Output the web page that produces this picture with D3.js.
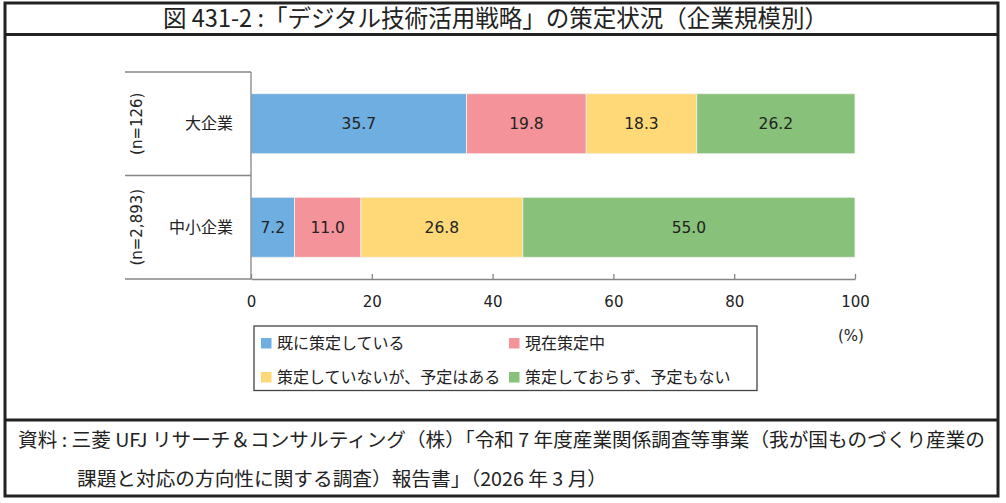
<!DOCTYPE html>
<html><head><meta charset="utf-8">
<script src="https://cdn.jsdelivr.net/npm/d3@7"></script>
<style>
html,body{margin:0;padding:0;background:#fff;}
svg{display:block;}
text{font-family:"Noto Sans CJK JP","Noto Sans",sans-serif;fill:#222;}
.num{font-family:"DejaVu Sans",Verdana,sans-serif;}
</style></head>
<body>
<script>
const categories = ["大企業", "中小企業"];
const sampleSizes = ["(n=126)", "(n=2,893)"];
const seriesNames = ["既に策定している", "現在策定中", "策定していないが、予定はある", "策定しておらず、予定もない"];
const largeValues = [35.7, 19.8, 18.3, 26.2];
const smeValues = [7.2, 11.0, 26.8, 55.0];
const tickValues = [0, 20, 40, 60, 80, 100];
const colors = ["#6eaee0", "#f4949a", "#ffd978", "#88c17a"];
const titleText = "図 431-2 :「デジタル技術活用戦略」の策定状況（企業規模別）";
const sourceLine1 = "資料 : 三菱 UFJ リサーチ＆コンサルティング（株）「令和 7 年度産業関係調査等事業（我が国ものづくり産業の";
const sourceLine2 = "課題と対応の方向性に関する調査）報告書」（2026 年 3 月）";

const W = 1006, H = 503;
const svg = d3.select("body").append("svg").attr("width", W).attr("height", H);

// Frame
svg.append("rect").attr("x", 5).attr("y", 3).attr("width", 993).attr("height", 493)
  .attr("fill", "none").attr("stroke", "#222").attr("stroke-width", 3);
svg.append("line").attr("x1", 5).attr("x2", 998).attr("y1", 34.5).attr("y2", 34.5)
  .attr("stroke", "#222").attr("stroke-width", 3);
svg.append("line").attr("x1", 5).attr("x2", 998).attr("y1", 420).attr("y2", 420)
  .attr("stroke", "#222").attr("stroke-width", 3);

// Title
svg.append("text").attr("x", 163).attr("y", 26.5).attr("font-size", 24)
  .attr("textLength", 665).attr("lengthAdjust", "spacingAndGlyphs")
  .text(titleText);

// Source
svg.append("text").attr("x", 18).attr("y", 447).attr("font-size", 19)
  .attr("textLength", 967).attr("lengthAdjust", "spacingAndGlyphs").text(sourceLine1);
svg.append("text").attr("x", 77).attr("y", 486).attr("font-size", 19)
  .attr("textLength", 530).attr("lengthAdjust", "spacingAndGlyphs").text(sourceLine2);

// Scales
const x = d3.scaleLinear().domain([0, 100]).range([251, 855]);
const y = d3.scaleBand().domain(categories).range([72, 279]).padding(0);
const barH = y.bandwidth() * 0.58;

const data = [largeValues, smeValues];
const stacked = categories.map((c, i) => {
  let acc = 0;
  return data[i].map((v, k) => { const s = acc; acc += v; return {cat: c, k, v, x0: s, x1: acc}; });
});

const gray = "#858585";
// Category box lines
[72, y(categories[1]), 279].forEach(yy => {
  svg.append("line").attr("x1", 125).attr("x2", 251).attr("y1", yy).attr("y2", yy)
    .attr("stroke", gray).attr("stroke-width", 1.3);
});

// Bars
const g = svg.append("g");
stacked.forEach(row => {
  g.selectAll(null).data(row).enter().append("rect")
    .attr("x", d => x(d.x0))
    .attr("width", d => x(d.x1) - x(d.x0))
    .attr("y", d => y(d.cat) + (y.bandwidth() - barH) / 2)
    .attr("height", barH)
    .attr("fill", d => colors[d.k])
    .attr("stroke", "#f2f2f2").attr("stroke-width", 0.8);
  g.selectAll(null).data(row).enter().append("text")
    .attr("class", "num")
    .attr("x", d => x((d.x0 + d.x1) / 2))
    .attr("y", d => y(d.cat) + y.bandwidth() / 2)
    .attr("dy", "0.36em")
    .attr("text-anchor", "middle").attr("font-size", 15.5)
    .text(d => d.v.toFixed(1));
});

// Vertical axis line
svg.append("line").attr("x1", 251).attr("x2", 251).attr("y1", 72).attr("y2", 279)
  .attr("stroke", gray).attr("stroke-width", 1.3);

// X axis
const ax = svg.append("g").attr("transform", "translate(0,279)")
  .call(d3.axisBottom(x).tickValues(tickValues).tickSizeInner(-5).tickSizeOuter(0).tickPadding(17));
ax.select(".domain").attr("stroke", gray).attr("stroke-width", 1.3);
ax.selectAll(".tick line").attr("stroke", gray).attr("stroke-width", 1.3);
ax.selectAll(".tick text").attr("class", "num").attr("font-size", 15).attr("fill", "#222")
  .attr("font-family", "'DejaVu Sans',Verdana,sans-serif");

// Category labels
categories.forEach((c, i) => {
  const cy = y(c) + y.bandwidth() / 2;
  svg.append("text").attr("x", 233).attr("y", cy).attr("dy", "0.35em")
    .attr("text-anchor", "end").attr("font-size", 16).text(c);
  svg.append("text").attr("class", "num")
    .attr("transform", `translate(137,${cy}) rotate(-90)`)
    .attr("text-anchor", "middle").attr("dy", "0.36em").attr("font-size", 15)
    .text(sampleSizes[i]);
});

// Legend
svg.append("rect").attr("x", 254).attr("y", 326).attr("width", 503).attr("height", 64.5)
  .attr("fill", "none").attr("stroke", "#444").attr("stroke-width", 1.3);
const legendPos = [[261, 338], [509, 338], [261, 372], [509, 372]];
seriesNames.forEach((n, i) => {
  const [lx, ly] = legendPos[i];
  svg.append("rect").attr("x", lx).attr("y", ly).attr("width", 10.5).attr("height", 10.5)
    .attr("fill", colors[i]);
  svg.append("text").attr("x", lx + 16).attr("y", ly + 5).attr("dy", "0.36em")
    .attr("font-size", 16).text(n);
});
svg.append("text").attr("class", "num").attr("x", 851).attr("y", 336).attr("dy", "0.36em")
  .attr("text-anchor", "middle").attr("font-size", 15).text("(%)");
</script>
</body></html>
